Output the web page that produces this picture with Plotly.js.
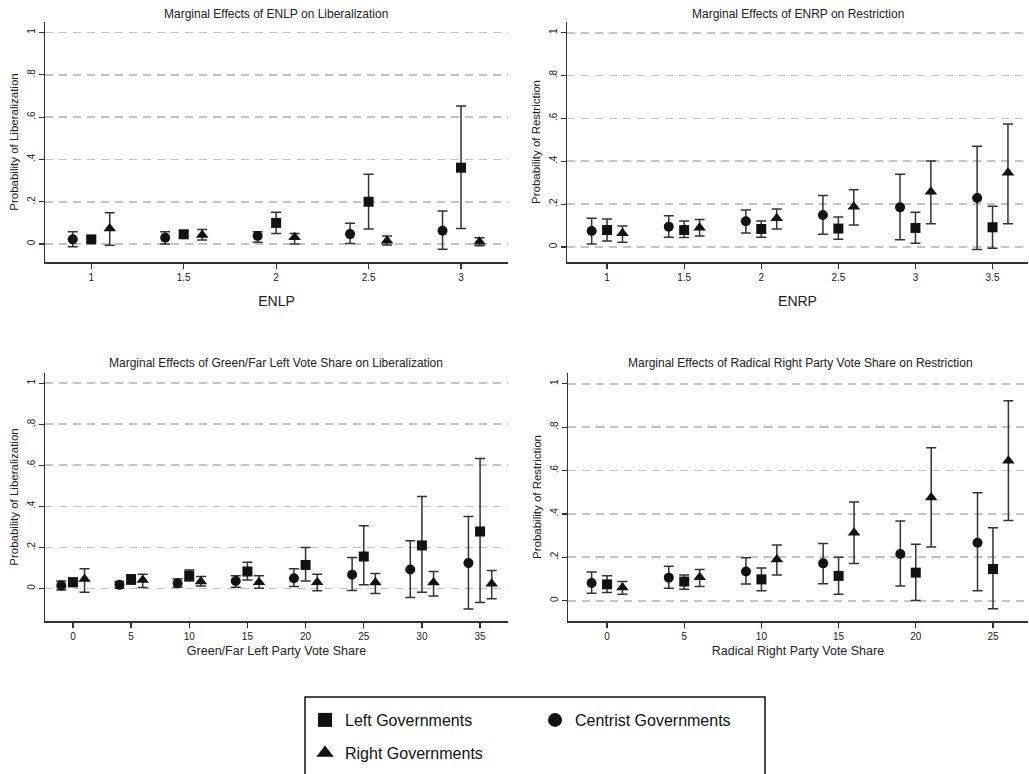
<!DOCTYPE html>
<html>
<head>
<meta charset="utf-8">
<script src="https://cdn.plot.ly/plotly-3.0.1.min.js"></script>
<style>html,body{margin:0;padding:0;background:#fff;}#chart{width:1029px;height:774px;}</style>
</head>
<body>
<div id="chart"></div>
<script>
// ---------- DATA ----------
const yTickVals = [0, 0.2, 0.4, 0.6, 0.8, 1];
const yTickText = ["0", ".2", ".4", ".6", ".8", "1"];
const seriesNames = ["Left Governments", "Centrist Governments", "Right Governments"];

// Panel 1: ENLP -> Liberalization
const enlpX = [1, 1.5, 2, 2.5, 3];
const enlpLeft = [0.022, 0.046, 0.100, 0.200, 0.361];
const enlpLeftLo = [0.012, 0.032, 0.050, 0.071, 0.074];
const enlpLeftHi = [0.034, 0.060, 0.150, 0.330, 0.653];
const enlpCentrist = [0.022, 0.030, 0.038, 0.047, 0.063];
const enlpCentristLo = [-0.013, 0.000, 0.008, 0.003, -0.025];
const enlpCentristHi = [0.058, 0.058, 0.058, 0.098, 0.156];
const enlpRight = [0.074, 0.043, 0.032, 0.016, 0.011];
const enlpRightLo = [-0.006, 0.019, 0.000, -0.005, -0.008];
const enlpRightHi = [0.148, 0.069, 0.050, 0.038, 0.030];

// Panel 2: ENRP -> Restriction
const enrpX = [1, 1.5, 2, 2.5, 3, 3.5];
const enrpLeft = [0.079, 0.079, 0.084, 0.086, 0.089, 0.092];
const enrpLeftLo = [0.028, 0.044, 0.045, 0.036, 0.017, -0.006];
const enrpLeftHi = [0.131, 0.121, 0.121, 0.140, 0.162, 0.190];
const enrpCentrist = [0.075, 0.095, 0.120, 0.149, 0.185, 0.229];
const enrpCentristLo = [0.014, 0.045, 0.065, 0.059, 0.034, -0.012];
const enrpCentristHi = [0.134, 0.146, 0.173, 0.240, 0.339, 0.470];
const enrpRight = [0.064, 0.090, 0.134, 0.188, 0.258, 0.347];
const enrpRightLo = [0.022, 0.051, 0.084, 0.103, 0.109, 0.109];
const enrpRightHi = [0.098, 0.128, 0.177, 0.267, 0.401, 0.574];

// Panel 3: Green/Far Left vote share -> Liberalization
const greenX = [0, 5, 10, 15, 20, 25, 30, 35];
const greenLeft = [0.031, 0.046, 0.062, 0.083, 0.115, 0.156, 0.210, 0.278];
const greenLeftLo = [0.010, 0.021, 0.037, 0.042, 0.037, 0.018, -0.018, -0.068];
const greenLeftHi = [0.050, 0.067, 0.091, 0.128, 0.200, 0.306, 0.449, 0.633];
const greenCentrist = [0.015, 0.018, 0.026, 0.037, 0.050, 0.067, 0.093, 0.124];
const greenCentristLo = [-0.007, 0.002, 0.007, 0.007, 0.010, -0.010, -0.044, -0.099];
const greenCentristHi = [0.037, 0.034, 0.046, 0.062, 0.096, 0.151, 0.233, 0.351];
const greenRight = [0.046, 0.042, 0.034, 0.031, 0.031, 0.029, 0.029, 0.024];
const greenRightLo = [-0.018, 0.005, 0.013, 0.002, -0.011, -0.024, -0.036, -0.050];
const greenRightHi = [0.096, 0.070, 0.059, 0.063, 0.070, 0.073, 0.083, 0.088];

// Panel 4: Radical right vote share -> Restriction
const rrX = [0, 5, 10, 15, 20, 25];
const rrLeft = [0.075, 0.088, 0.098, 0.114, 0.129, 0.146];
const rrLeftLo = [0.037, 0.052, 0.046, 0.029, 0.000, -0.038];
const rrLeftHi = [0.115, 0.118, 0.151, 0.200, 0.260, 0.336];
const rrCentrist = [0.081, 0.106, 0.134, 0.172, 0.215, 0.267];
const rrCentristLo = [0.034, 0.057, 0.077, 0.078, 0.068, 0.045];
const rrCentristHi = [0.132, 0.158, 0.198, 0.264, 0.367, 0.498];
const rrRight = [0.060, 0.108, 0.190, 0.313, 0.476, 0.645];
const rrRightLo = [0.029, 0.065, 0.118, 0.171, 0.247, 0.370];
const rrRightHi = [0.088, 0.144, 0.257, 0.455, 0.705, 0.922];

// ---------- STYLE / LAYOUT ----------
const W = 1029, H = 774;
const FONT = "Liberation Sans, Arial, Helvetica, sans-serif";
const INK = "#111";
const AX = "#333";
const px = v => v / W;
const py = v => 1 - v / H;

const symbols = ["square", "circle", "triangle-up"];
const sizes = [10, 10, 11];

function makeTraces(xs, offset, sets, xa, ya) {
  // sets: [[y, lo, hi] for Left, Centrist, Right]; Centrist at -offset, Left at 0, Right at +offset
  const shifts = [0, -offset, offset];
  return sets.map((s, i) => ({
    type: "scatter", mode: "markers",
    x: xs.map(v => v + shifts[i]), y: s[0],
    xaxis: xa, yaxis: ya,
    name: seriesNames[i], showlegend: false, hoverinfo: "skip",
    marker: {symbol: symbols[i], size: sizes[i], color: INK},
    error_y: {type: "data", symmetric: false,
      array: s[0].map((v, k) => s[2][k] - v),
      arrayminus: s[0].map((v, k) => v - s[1][k]),
      color: AX, thickness: 1.5, width: 5}
  }));
}

let traces = [];
traces = traces.concat(makeTraces(enlpX, 0.1, [[enlpLeft, enlpLeftLo, enlpLeftHi], [enlpCentrist, enlpCentristLo, enlpCentristHi], [enlpRight, enlpRightLo, enlpRightHi]], "x", "y"));
traces = traces.concat(makeTraces(enrpX, 0.1, [[enrpLeft, enrpLeftLo, enrpLeftHi], [enrpCentrist, enrpCentristLo, enrpCentristHi], [enrpRight, enrpRightLo, enrpRightHi]], "x2", "y2"));
traces = traces.concat(makeTraces(greenX, 1, [[greenLeft, greenLeftLo, greenLeftHi], [greenCentrist, greenCentristLo, greenCentristHi], [greenRight, greenRightLo, greenRightHi]], "x3", "y3"));
traces = traces.concat(makeTraces(rrX, 1, [[rrLeft, rrLeftLo, rrLeftHi], [rrCentrist, rrCentristLo, rrCentristHi], [rrRight, rrRightLo, rrRightHi]], "x4", "y4"));

// legend entries (larger symbols, as in the key)
const legendOf = ["legend", "legend", "legend2"];
seriesNames.forEach((n, i) => {
  traces.push({type: "scatter", mode: "markers", x: [null], y: [null], xaxis: "x", yaxis: "y",
    name: n, showlegend: true, legend: legendOf[i], hoverinfo: "skip",
    marker: {symbol: symbols[i], size: i === 2 ? 15 : 14, color: INK}});
});

function xAxis(d, range, dtick, anchor, title, tsize, standoff) {
  return {domain: [px(d[0]), px(d[1])], range: range, dtick: dtick, tick0: 0, anchor: anchor,
    showgrid: false, zeroline: false, showline: true, linecolor: AX, linewidth: 1.5,
    ticks: "outside", ticklen: 5, tickwidth: 1.2, tickcolor: AX,
    tickfont: {family: FONT, size: 10, color: "#222"},
    title: {text: title, font: {family: FONT, size: tsize, color: "#222"}, standoff: standoff}};
}
function yAxis(d, range, anchor, title) {
  return {domain: [py(d[1]), py(d[0])], range: range, anchor: anchor,
    tickvals: yTickVals, ticktext: yTickText, tickangle: -90,
    showgrid: true, gridcolor: "#c4c4c4", gridwidth: 1.8, griddash: "8px,6px",
    zeroline: false, showline: true, linecolor: AX, linewidth: 1.5,
    ticks: "outside", ticklen: 5, tickwidth: 1.2, tickcolor: AX,
    tickfont: {family: FONT, size: 10, color: "#222"},
    title: {text: title, font: {family: FONT, size: 11.5, color: "#222"}, standoff: 4}};
}

const titles = [
  ["Marginal Effects of ENLP on Liberalization", 276, 14],
  ["Marginal Effects of ENRP on Restriction", 798, 14],
  ["Marginal Effects of Green/Far Left Vote Share on Liberalization", 276, 363],
  ["Marginal Effects of Radical Right Party Vote Share on Restriction", 800, 363]
];

const layout = {
  width: W, height: H,
  margin: {l: 0, r: 0, t: 0, b: 0},
  paper_bgcolor: "#fff", plot_bgcolor: "#fff",
  font: {family: FONT, color: "#222"},
  xaxis: xAxis([45, 508], [0.75, 3.254], 0.5, "y", "ENLP", 14, 14),
  yaxis: yAxis([22, 262], [-0.085, 1.05], "x", "Probability of Liberalization"),
  xaxis2: xAxis([567, 1028], [0.74, 3.73], 0.5, "y2", "ENRP", 14, 14),
  yaxis2: yAxis([22, 262], [-0.07, 1.05], "x2", "Probability of Restriction"),
  xaxis3: xAxis([45, 508], [-2.4, 37.4], 5, "y3", "Green/Far Left Party Vote Share", 12.5, 5),
  yaxis3: yAxis([373, 621], [-0.158, 1.05], "x3", "Probability of Liberalization"),
  xaxis4: xAxis([568, 1028], [-2.53, 27.27], 5, "y4", "Radical Right Party Vote Share", 12.5, 5),
  yaxis4: yAxis([373, 621], [-0.094, 1.05], "x4", "Probability of Restriction"),
  annotations: titles.map(t => ({text: t[0], xref: "paper", yref: "paper", x: px(t[1]), y: py(t[2]),
    xanchor: "center", yanchor: "middle", showarrow: false,
    font: {family: FONT, size: 12, color: "#222"}})),
  legend: {x: px(305), y: py(720), xanchor: "left", yanchor: "middle", orientation: "h",
    entrywidth: 185, entrywidthmode: "pixels", bgcolor: "rgba(0,0,0,0)", borderwidth: 0,
    font: {family: FONT, size: 16, color: "#111"}},
  legend2: {x: px(305), y: py(753), xanchor: "left", yanchor: "middle", orientation: "h",
    bgcolor: "rgba(0,0,0,0)", borderwidth: 0,
    font: {family: FONT, size: 16, color: "#111"}},
  shapes: [{type: "rect", xref: "paper", yref: "paper", x0: px(305), x1: px(765), y0: py(800), y1: py(697),
    line: {color: "#111", width: 1.5}, fillcolor: "rgba(0,0,0,0)", layer: "above"}],
  showlegend: true
};

Plotly.newPlot("chart", traces, layout, {displayModeBar: false, staticPlot: true});
</script>
</body>
</html>
